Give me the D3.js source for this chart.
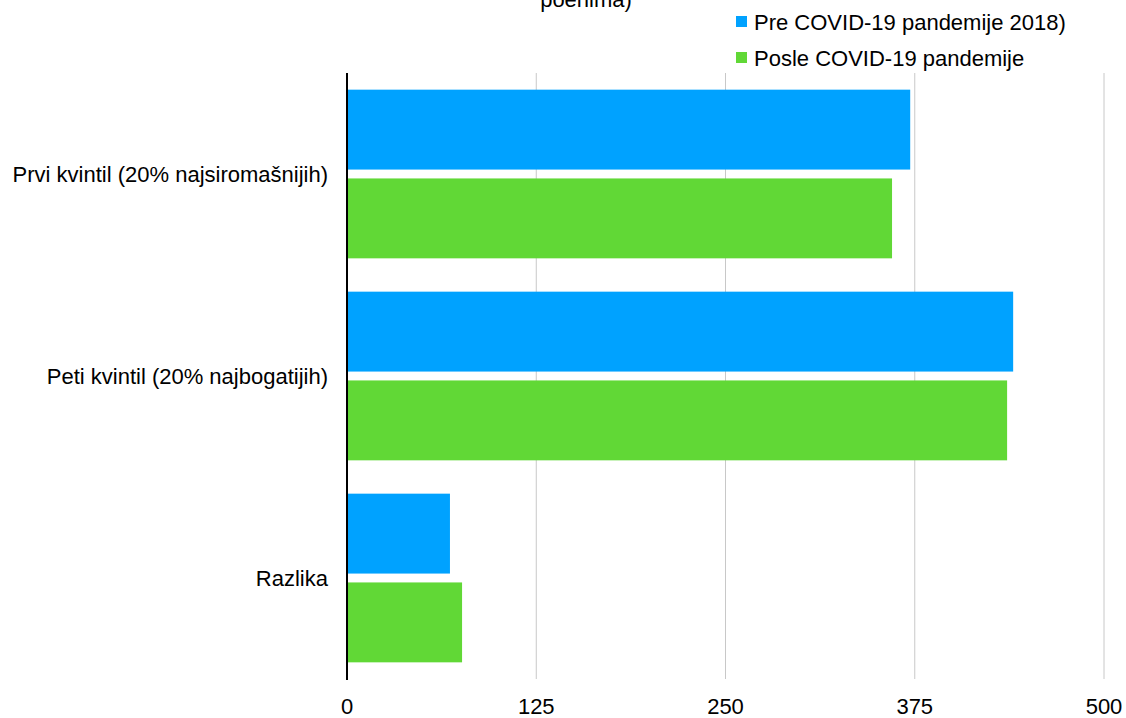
<!DOCTYPE html>
<html>
<head>
<meta charset="utf-8">
<script src="https://cdn.jsdelivr.net/npm/d3@7"></script>
<style>
  body { margin: 0; background: #fff; }
  text { font-family: "Liberation Sans", Arial, sans-serif; fill: #000; }
</style>
</head>
<body>
<script>
//chart data
var categories = ["Prvi kvintil (20% najsiromašnijih)", "Peti kvintil (20% najbogatijih)", "Razlika"];
var seriesNames = ["Pre COVID-19 pandemije 2018)", "Posle COVID-19 pandemije"];
var preValues = [372, 440, 68];
var posleValues = [360, 436, 76];
var xTicks = [0, 125, 250, 375, 500];
var colors = ["#00a2ff", "#61d836"];

//page frame
var width = 1126, height = 718;
var svg = d3.select("body").append("svg")
  .attr("width", width)
  .attr("height", height);

//x scale for values
var x = d3.scaleLinear()
  .domain([0, 500])
  .range([347, 1104]);

//outer band for categories
var y0 = d3.scaleBand()
  .domain(categories)
  .range([73, 679])
  .paddingInner(0.165)
  .paddingOuter(0.0825);

//inner band for the two series
var y1 = d3.scaleBand()
  .domain(seriesNames)
  .range([0, y0.bandwidth()])
  .paddingInner(0.1);

//title, cut off at top like the original
svg.append("text")
  .attr("x", 586)
  .attr("y", 7)
  .attr("text-anchor", "middle")
  .style("font-size", "22px")
  .text("poenima)");

//gridlines
svg.append("g")
  .selectAll("line")
  .data(xTicks.slice(1))
  .enter()
  .append("line")
  .attr("x1", function(d){ return x(d); })
  .attr("x2", function(d){ return x(d); })
  .attr("y1", 73)
  .attr("y2", 679)
  .attr("stroke", "#c8c8c8")
  .attr("stroke-width", 1);

//rows of bars
var rows = categories.map(function(c, i){
  return { cat: c, vals: [preValues[i], posleValues[i]] };
});

var groups = svg.selectAll(".grp")
  .data(rows)
  .enter()
  .append("g")
  .attr("class", "grp")
  .attr("transform", function(d){ return "translate(0," + y0(d.cat) + ")"; });

groups.selectAll("rect")
  .data(function(d){
    return d.vals.map(function(v, k){ return { name: seriesNames[k], value: v, k: k }; });
  })
  .enter()
  .append("rect")
  .attr("x", x(0))
  .attr("y", function(d){ return y1(d.name); })
  .attr("width", function(d){ return x(d.value) - x(0); })
  .attr("height", y1.bandwidth())
  .attr("fill", function(d){ return colors[d.k]; });

//axis line
svg.append("line")
  .attr("x1", x(0))
  .attr("x2", x(0))
  .attr("y1", 73)
  .attr("y2", 680)
  .attr("stroke", "#000")
  .attr("stroke-width", 2);

//category labels
svg.selectAll(".cat")
  .data(categories)
  .enter()
  .append("text")
  .attr("class", "cat")
  .attr("x", 328)
  .attr("y", function(d){ return y0(d) + y0.bandwidth() / 2; })
  .attr("dy", "0.35em")
  .attr("text-anchor", "end")
  .style("font-size", "22px")
  .text(function(d){ return d; });

//x tick labels
svg.selectAll(".tick")
  .data(xTicks)
  .enter()
  .append("text")
  .attr("class", "tick")
  .attr("x", function(d){ return x(d); })
  .attr("y", 714)
  .attr("text-anchor", "middle")
  .style("font-size", "22px")
  .text(function(d){ return d; });

//legend
var legend = svg.selectAll(".leg")
  .data(seriesNames)
  .enter()
  .append("g")
  .attr("class", "leg")
  .attr("transform", function(d, i){ return "translate(736," + (16 + i * 36) + ")"; });

legend.append("rect")
  .attr("width", 11)
  .attr("height", 11)
  .attr("fill", function(d, i){ return colors[i]; });

legend.append("text")
  .attr("x", 18)
  .attr("y", 14)
  .style("font-size", "22px")
  .text(function(d){ return d; });
</script>
</body>
</html>
